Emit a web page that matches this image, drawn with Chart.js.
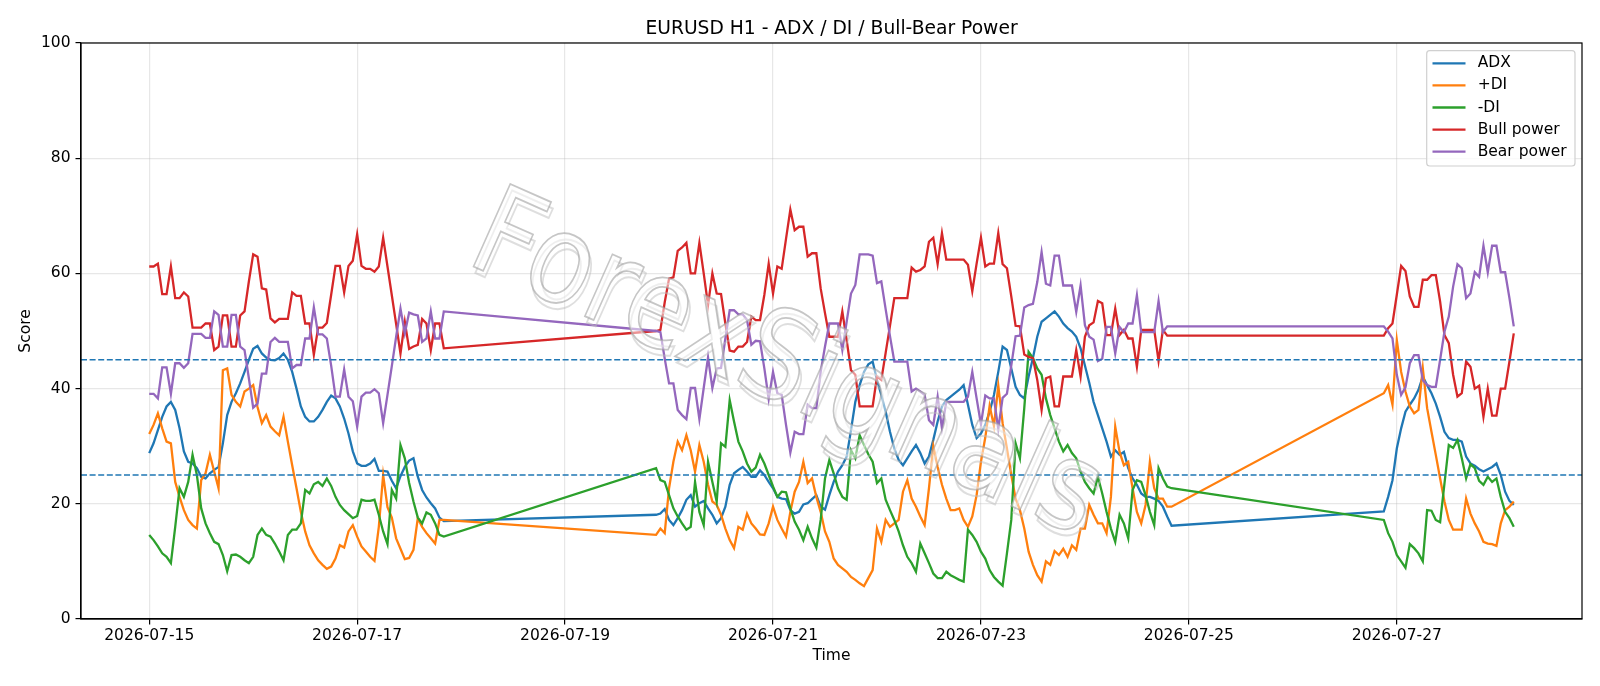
<!DOCTYPE html>
<html>
<head>
<meta charset="utf-8">
<script src="https://cdn.jsdelivr.net/npm/chart.js@4.4.0/dist/chart.umd.min.js"></script>
<style>
  html, body { margin: 0; padding: 0; background: #fff; }
</style>
</head>
<body>
<canvas id="chart" width="1600" height="686"></canvas>
<script>
// hours counted from 2026-07-15 00:00, one H1 bar per hour, market closed over the weekends
var sessionStart = [0, 117, 285];
var sessionBars = [69, 120, 31];

var xTickHours = [0, 48, 96, 144, 192, 240, 288];
var xTickLabels = ["2026-07-15", "2026-07-17", "2026-07-19", "2026-07-21", "2026-07-23", "2026-07-25", "2026-07-27"];
var yTicks = [0, 20, 40, 60, 80, 100];
var levels = [45, 25];

var seriesNames = ["ADX", "+DI", "-DI", "Bull power", "Bear power"];

var adx = [
  28.8,30.5,32.8,35.1,36.9,37.7,36.3,33.1,29.1,27.3,
  27.0,26.2,24.7,24.4,25.3,25.9,26.4,30.5,35.4,37.7,
  39.2,40.9,42.9,45.0,46.9,47.4,46.1,45.4,45.0,44.9,
  45.3,46.1,45.0,42.9,40.0,36.9,35.1,34.3,34.3,35.1,
  36.3,37.7,38.8,38.3,36.9,34.8,32.2,29.1,27.0,26.6,
  26.6,27.0,27.8,25.7,25.7,25.6,24.0,22.7,24.8,26.4,
  27.5,27.9,24.7,22.4,21.1,20.1,19.2,17.6,17.0,
  18.1,18.3,19.1,17.2,16.3,17.5,18.9,20.7,21.5,19.5,
  20.1,20.5,19.2,18.1,16.6,17.5,19.5,23.3,25.3,25.9,
  26.4,25.6,24.7,24.7,25.8,25.0,23.8,22.7,21.2,20.9,
  20.8,18.9,18.3,18.6,19.9,20.1,20.8,21.5,19.5,19.0,
  21.5,23.8,25.6,26.7,28.2,32.8,37.7,40.6,42.9,44.2,
  44.7,41.5,38.9,36.0,32.5,29.6,27.6,26.7,27.9,29.1,
  30.2,28.8,27.0,28.2,31.1,34.3,36.9,38.0,38.6,39.2,
  39.8,40.6,37.2,33.7,31.4,32.2,33.7,36.0,38.9,42.9,
  47.3,46.7,43.5,40.3,38.9,38.3,42.1,45.3,49.0,51.6,
  52.2,52.8,53.4,52.5,51.3,50.5,49.9,49.0,47.0,44.0,
  41.0,37.7,35.4,33.1,30.8,28.2,29.3,28.5,29.0,26.2,
  24.4,23.3,21.8,21.2,21.2,20.9,20.5,19.5,17.8,16.2,
  18.7,21.2,24.1,29.6,33.1,36.0,37.2,38.3,39.8,42.1,
  40.6,39.2,37.4,35.1,32.5,31.4,31.1,31.1,30.8,28.2,
  27.0,26.6,26.0,25.6,26.0,26.4,27.0,25.0,22.1,20.5,
  19.8
];

var plusDi = [
  32.1,33.7,35.7,33.1,30.8,30.5,23.8,21.2,18.9,17.2,
  16.3,15.7,24.1,25.3,28.5,25.6,22.7,43.2,43.5,38.9,
  37.7,36.9,39.5,40.0,40.6,36.8,34.0,35.4,33.4,32.6,
  31.9,35.1,30.8,26.7,22.7,18.6,15.2,12.8,11.4,10.2,
  9.4,8.7,9.1,10.5,12.8,12.4,15.2,16.3,14.3,12.6,
  11.7,10.8,10.1,16.0,25.0,19.4,17.6,14.0,12.2,10.4,
  10.6,12.0,17.5,16.0,14.9,14.0,13.1,17.2,17.2,
  14.6,15.7,14.9,22.7,27.3,30.8,29.3,31.9,29.3,25.6,
  30.2,27.3,23.3,20.4,19.8,18.1,15.7,13.7,12.3,16.0,
  15.5,18.3,16.6,15.7,14.7,14.6,16.6,19.5,17.2,15.7,
  14.3,18.6,22.1,23.8,27.3,23.6,24.4,21.2,18.6,15.2,
  13.4,10.5,9.4,8.8,8.2,7.3,6.8,6.2,5.7,7.1,
  8.5,15.7,13.4,17.2,16.0,16.6,17.2,22.1,24.1,20.9,
  19.5,17.8,16.3,22.7,30.0,26.4,23.3,20.9,18.9,18.9,
  19.2,17.2,16.0,17.8,21.5,27.3,31.5,37.0,33.5,40.5,
  34.0,29.6,25.0,20.9,18.9,15.7,11.7,9.4,7.6,6.5,
  10.0,9.4,11.8,11.1,12.2,10.8,12.8,12.0,15.7,15.7,
  19.8,18.1,16.6,16.6,14.9,21.2,33.4,29.0,26.7,27.3,
  22.7,18.6,16.6,19.8,27.3,22.7,20.9,20.9,19.5,19.5,
  39.2,40.6,37.2,48.4,42.9,39.5,36.9,35.7,36.3,43.5,
  36.6,32.5,28.5,24.4,20.4,17.2,15.5,15.5,15.5,20.9,
  18.3,16.6,15.2,13.4,13.1,13.0,12.7,16.6,18.9,19.5,
  20.4
];

var minusDi = [
  14.6,13.7,12.6,11.4,10.8,9.7,16.0,22.7,21.2,23.8,
  28.5,25.0,19.2,16.6,14.9,13.4,13.0,11.1,8.3,11.1,
  11.2,10.8,10.2,9.7,10.8,14.6,15.7,14.6,14.3,13.1,
  11.7,10.2,14.6,15.5,15.5,16.6,22.4,21.8,23.4,23.8,
  23.1,24.4,23.1,21.2,19.8,18.9,18.2,17.5,17.9,20.7,
  20.5,20.5,20.7,18.1,15.2,13.0,22.4,20.9,30.2,27.9,
  23.6,20.4,17.6,16.6,18.5,18.1,16.6,14.6,14.3,
  26.2,24.1,23.8,21.5,19.2,17.8,16.6,15.5,16.0,23.8,
  18.6,16.3,27.3,23.8,20.4,30.5,29.9,38.0,34.3,30.8,
  29.1,27.0,25.6,26.3,28.5,27.0,25.0,23.0,21.2,22.1,
  22.0,19.2,16.9,15.5,13.7,16.0,14.0,12.4,17.2,24.4,
  27.6,25.3,22.7,21.2,20.7,29.3,27.9,31.9,30.2,28.6,
  27.3,23.6,24.4,20.7,18.9,17.2,15.2,12.8,10.8,9.7,
  8.2,13.1,11.4,9.7,7.9,7.1,7.1,8.2,7.6,7.2,
  6.8,6.5,15.5,14.6,13.4,11.7,10.5,8.5,7.3,6.5,
  5.8,11.4,17.2,30.5,27.9,36.6,46.4,45.3,43.5,42.4,
  38.3,35.4,33.1,30.8,29.1,30.2,28.8,27.9,25.6,23.8,
  22.7,21.8,24.7,21.8,18.6,15.7,13.4,18.1,16.6,14.0,
  22.4,24.1,23.8,21.5,18.6,16.3,26.2,24.4,23.0,22.7,
  17.2,14.9,13.4,11.1,10.0,8.9,13.0,12.3,11.4,10.0,
  18.9,18.8,17.2,16.8,23.5,30.2,29.7,31.1,27.9,24.4,
  26.9,26.2,24.0,23.3,24.7,23.8,24.4,21.2,18.6,17.5,
  16.0
];

var bullPower = [
  61.2,61.2,61.7,56.4,56.4,61.2,55.7,55.7,56.7,56.0,
  50.6,50.6,50.6,51.3,51.3,46.7,47.3,52.7,52.7,47.3,
  47.3,52.7,53.4,58.6,63.3,62.9,57.4,57.2,52.2,51.5,
  52.1,52.1,52.1,56.7,56.1,56.1,51.3,51.3,45.9,50.6,
  50.6,51.4,56.3,61.3,61.3,56.7,61.3,62.2,66.8,61.3,
  60.8,60.8,60.3,61.2,66.2,61.2,56.2,51.2,46.1,51.6,
  46.9,47.3,47.6,52.1,51.3,46.7,51.3,51.3,47.0,
  50.0,50.2,55.0,59.1,59.3,63.9,64.5,65.3,60.0,60.0,
  65.3,60.0,54.5,60.0,56.5,56.4,51.3,46.6,46.4,47.3,
  47.3,48.1,52.5,51.9,51.9,56.3,61.7,56.5,61.2,60.8,
  66.0,71.1,67.5,68.1,68.1,62.9,63.5,63.5,57.4,53.1,
  49.0,49.0,49.0,53.4,48.4,43.2,42.4,36.9,36.9,36.9,
  36.9,42.1,41.5,46.2,50.9,55.7,55.7,55.7,55.7,61.0,
  60.3,60.6,61.2,65.5,66.2,61.6,67.0,62.4,62.4,62.4,
  62.4,62.4,61.5,56.9,61.7,66.2,61.2,61.7,61.7,67.0,
  61.6,60.9,56.0,50.9,50.8,45.9,45.5,45.3,41.5,36.3,
  41.8,42.1,36.9,36.9,42.1,42.1,42.1,46.7,42.1,49.0,
  51.0,51.5,55.2,54.8,49.3,49.3,53.9,49.3,50.2,48.7,
  48.7,43.8,50.2,50.2,50.2,50.2,44.8,50.2,49.2,49.2,
  49.2,50.5,51.3,56.3,61.3,60.4,56.0,54.2,54.2,58.9,
  58.9,59.7,59.7,55.1,49.3,47.9,42.4,38.6,39.2,44.7,
  43.8,40.0,40.5,35.1,40.0,35.3,35.3,40.0,40.0,44.7,
  49.6
];

var bearPower = [
  39.1,39.1,38.3,43.7,43.7,39.1,44.4,44.4,43.6,44.4,
  49.5,49.5,49.5,48.8,48.8,53.4,52.8,47.3,47.3,52.8,
  52.8,47.3,46.7,41.8,36.7,37.4,42.6,42.6,48.1,48.8,
  48.1,48.1,48.1,43.5,44.1,44.1,48.7,48.7,54.1,49.4,
  49.4,48.7,44.0,38.6,38.6,43.3,38.6,37.8,33.4,38.6,
  39.3,39.3,39.9,39.2,34.0,38.9,43.9,49.0,53.9,49.6,
  53.2,52.9,52.7,48.1,48.7,53.4,48.7,48.7,53.4,
  50.0,49.8,45.2,40.9,40.9,36.3,35.4,34.7,40.1,40.1,
  34.7,40.1,45.4,40.1,43.5,43.6,48.7,53.6,53.6,52.9,
  52.9,51.9,47.6,48.3,48.2,43.5,38.2,42.9,39.2,38.9,
  33.7,28.9,32.5,32.1,32.1,37.2,36.6,36.6,42.9,47.3,
  51.3,51.3,51.3,46.7,51.6,56.5,58.0,63.3,63.3,63.3,
  63.1,58.3,58.6,53.8,49.1,44.7,44.7,44.7,44.7,39.5,
  40.0,39.5,38.9,34.5,33.7,38.6,33.1,37.7,37.7,37.7,
  37.7,37.7,38.6,42.9,38.3,33.8,38.8,38.3,38.3,33.0,
  38.4,39.1,44.0,49.1,49.2,54.1,54.5,54.7,58.5,63.7,
  58.2,57.9,63.1,63.1,57.9,57.9,57.9,53.3,57.9,51.0,
  49.0,48.5,44.8,45.2,50.7,50.7,46.1,50.7,49.8,51.3,
  51.3,56.2,49.8,49.8,49.8,49.8,55.2,49.8,50.8,50.8,
  50.8,49.9,48.7,42.4,38.9,40.2,44.4,45.8,45.8,41.5,
  40.6,40.3,40.3,45.0,49.9,52.5,57.7,61.6,60.9,55.7,
  56.5,60.2,59.4,64.8,60.2,64.8,64.8,60.2,60.2,55.7,
  50.8
];

var hours = [];
for (var s = 0; s < sessionStart.length; s++) {
  for (var i = 0; i < sessionBars[s]; i++) hours.push(sessionStart[s] + i);
}

var colors = ["#1f77b4", "#ff7f0e", "#2ca02c", "#d62728", "#9467bd"];
var allValues = [adx, plusDi, minusDi, bullPower, bearPower];

var datasets = allValues.map(function (vals, k) {
  return {
    label: seriesNames[k],
    data: vals.map(function (v, i) { return { x: hours[i], y: v }; }),
    borderColor: colors[k],
    backgroundColor: colors[k],
    borderWidth: 2.3,
    pointRadius: 0,
    tension: 0,
    fill: false,
    order: seriesNames.length - k
  };
});

var FONT = "DejaVu Sans";
Chart.defaults.font.family = FONT;
Chart.defaults.color = "#000";

var decor = {
  id: "decor",
  afterDatasetsDraw: function (chart) {
    var ctx = chart.ctx, a = chart.chartArea, ys = chart.scales.y;
    ctx.save();
    // threshold lines
    ctx.strokeStyle = "#1f77b4";
    ctx.lineWidth = 1.5;
    ctx.setLineDash([6, 2.6]);
    levels.forEach(function (v) {
      var py = ys.getPixelForValue(v);
      ctx.beginPath();
      ctx.moveTo(a.left, py);
      ctx.lineTo(a.right, py);
      ctx.stroke();
    });
    ctx.setLineDash([]);

    // watermark
    ctx.save();
    ctx.beginPath();
    ctx.rect(a.left, a.top, a.right - a.left, a.bottom - a.top);
    ctx.clip();
    ctx.translate(785, 370);
    ctx.rotate(24 * Math.PI / 180);
    ctx.scale(0.86, 1);
    ctx.font = "124px " + FONT;
    ctx.textAlign = "center";
    ctx.textBaseline = "middle";
    ctx.lineWidth = 2;
    ctx.strokeStyle = "rgba(190,190,190,0.5)";
    ctx.strokeText("ForexSignals", 5, 5);
    ctx.fillStyle = "rgba(255,255,255,0.5)";
    ctx.fillText("ForexSignals", 0, 0);
    ctx.lineWidth = 1.8;
    ctx.strokeStyle = "rgba(160,160,160,0.6)";
    ctx.strokeText("ForexSignals", 0, 0);
    ctx.restore();
    ctx.restore();
  },
  afterDraw: function (chart) {
    var ctx = chart.ctx, a = chart.chartArea;
    ctx.save();
    // axes frame
    ctx.strokeStyle = "#000";
    ctx.lineWidth = 1.2;
    ctx.strokeRect(a.left, a.top, a.right - a.left, a.bottom - a.top);

    // title and axis labels
    ctx.fillStyle = "#000";
    ctx.textAlign = "center";
    ctx.font = "18.7px " + FONT;
    ctx.textBaseline = "alphabetic";
    ctx.fillText("EURUSD H1 - ADX / DI / Bull-Bear Power", (a.left + a.right) / 2, 33.5);
    ctx.font = "15.5px " + FONT;
    ctx.textBaseline = "middle";
    ctx.fillText("Time", (a.left + a.right) / 2, 656);
    ctx.save();
    ctx.translate(25.5, (a.top + a.bottom) / 2);
    ctx.rotate(-Math.PI / 2);
    ctx.fillText("Score", 0, 0);
    ctx.restore();

    // legend
    var lx = 1426.7, ly = 50.7, lw = 148.3, lh = 115.3;
    ctx.beginPath();
    ctx.roundRect(lx, ly, lw, lh, 3);
    ctx.fillStyle = "rgba(255,255,255,0.8)";
    ctx.fill();
    ctx.strokeStyle = "#d0d0d0";
    ctx.lineWidth = 1.2;
    ctx.stroke();
    ctx.textAlign = "left";
    ctx.textBaseline = "middle";
    ctx.font = "15.5px " + FONT;
    chart.data.datasets.forEach(function (ds, k) {
      var ry = 63.3 + k * 22.1;
      ctx.strokeStyle = ds.borderColor;
      ctx.lineWidth = 2.3;
      ctx.beginPath();
      ctx.moveTo(1432.5, ry);
      ctx.lineTo(1465.5, ry);
      ctx.stroke();
      ctx.fillStyle = "#000";
      ctx.fillText(ds.label, 1477.7, ry);
    });
    ctx.restore();
  }
};

var gridOpts = {
  color: "rgba(176,176,176,0.3)",
  lineWidth: 1.2,
  tickColor: "#000",
  tickLength: 5.5,
  tickWidth: 1.2
};

new Chart(document.getElementById("chart"), {
  type: "line",
  data: { datasets: datasets },
  options: {
    responsive: false,
    animation: false,
    devicePixelRatio: 1,
    layout: { padding: { top: 43, right: 18, bottom: 0, left: 0 } },
    plugins: {
      legend: { display: false },
      title: { display: false },
      tooltip: { enabled: false }
    },
    scales: {
      x: {
        type: "linear",
        min: -15.75,
        max: 330.75,
        afterBuildTicks: function (sc) { sc.ticks = xTickHours.map(function (v) { return { value: v }; }); },
        afterFit: function (sc) { sc.height = 67; },
        ticks: {
          autoSkip: false,
          maxRotation: 0,
          padding: 2,
          font: { size: 15.5 },
          color: "#000",
          callback: function (v) { return xTickLabels[xTickHours.indexOf(v)]; }
        },
        grid: gridOpts,
        border: { color: "#000", width: 1.2 }
      },
      y: {
        min: 0,
        max: 100,
        afterBuildTicks: function (sc) { sc.ticks = yTicks.map(function (v) { return { value: v }; }); },
        afterFit: function (sc) { sc.width = 81; },
        ticks: { padding: 5, font: { size: 15.5 }, color: "#000" },
        grid: gridOpts,
        border: { color: "#000", width: 1.2 }
      }
    }
  },
  plugins: [decor]
});
</script>
</body>
</html>
